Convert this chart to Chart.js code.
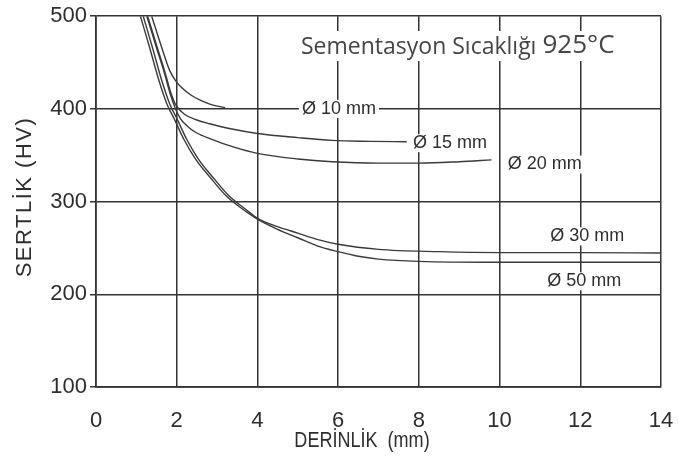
<!DOCTYPE html>
<html>
<head>
<meta charset="utf-8">
<script src="https://cdn.jsdelivr.net/npm/chart.js@4.4.0/dist/chart.umd.min.js"></script>
<style>
  html,body{margin:0;padding:0;background:#fff;}
  #wrap{width:678px;height:468px;}
</style>
</head>
<body>
<div id="wrap"><canvas id="hvChart" width="678" height="468"></canvas></div>
<script>
// hardness vs depth
const seriesNames = ['Ø 10 mm', 'Ø 15 mm', 'Ø 20 mm', 'Ø 30 mm', 'Ø 50 mm'];

const d10x = [1.38, 1.63, 1.83, 1.98, 2.12, 2.35, 2.62, 2.9, 3.2];
const d10y = [500, 466, 441, 430, 423, 415, 408.6, 404, 401.4];

const d15x = [1.28, 1.52, 1.72, 1.85, 1.98, 2.2, 2.5, 2.82, 3.4, 4.0, 5.0, 5.85, 6.8, 7.7];
const d15y = [500, 466, 438, 418, 404, 394, 388, 384, 378, 373.5, 369, 366, 365, 364.5];

const d20x = [1.26, 1.50, 1.70, 1.84, 1.97, 2.1, 2.3, 2.5, 2.82, 3.4, 4.0, 5.0, 5.85, 7.0, 8.0, 9.0, 9.8];
const d20y = [500, 466, 438, 416, 400, 389, 380, 374, 368, 359, 352, 346, 343, 341.5, 341.5, 343, 345];

const d30x = [1.17, 1.40, 1.62, 1.83, 2.0, 2.25, 2.55, 2.9, 3.3, 3.7, 4.0, 4.5, 5.0, 5.5, 6.0, 7.0, 8.5, 10, 12, 14];
const d30y = [500, 466, 432, 405, 390, 367, 345, 326, 306, 292, 282, 273, 266, 259, 254, 248.5, 246, 245, 245, 244.5];

const d50x = [1.10, 1.33, 1.55, 1.76, 1.93, 2.18, 2.48, 2.83, 3.23, 3.63, 4.0, 4.5, 5.0, 5.5, 6.0, 6.5, 7.0, 8.0, 10, 12, 14];
const d50y = [500, 466, 432, 405, 390, 367, 345, 326, 306, 292, 281, 270, 261, 252, 246, 241, 238, 235.5, 234.5, 234.5, 234.5];

const xTicks = [0, 2, 4, 6, 8, 10, 12, 14];
const yTicks = [100, 200, 300, 400, 500];

// where each curve name sits (data units)
const labelX = [6.02, 8.77, 11.12, 12.17, 12.1];
const labelY = [400, 363, 340, 262.5, 214];

const xs = [d10x, d15x, d20x, d30x, d50x];
const ys = [d10y, d15y, d20y, d30y, d50y];

const ink = '#2e2e2e';
const FONT = "'Liberation Sans', Arial, sans-serif";

const datasets = seriesNames.map((name, i) => ({
  label: name,
  data: xs[i].map((x, j) => ({x: x, y: ys[i][j]})),
  borderColor: '#3a3a3a',
  borderWidth: 1.4,
  pointRadius: 0,
  fill: false,
  cubicInterpolationMode: 'monotone'
}));

// curve names, chart note and axis titles
const textPlugin = {
  id: 'texts',
  afterDatasetsDraw(chart){
    const ctx = chart.ctx;
    const sx = chart.scales.x, sy = chart.scales.y;
    ctx.save();
    ctx.textBaseline = 'middle';
    ctx.textAlign = 'center';
    ctx.font = '18px ' + FONT;
    seriesNames.forEach((name, i) => {
      const px = sx.getPixelForValue(labelX[i]);
      const py = sy.getPixelForValue(labelY[i]);
      const w = ctx.measureText(name).width;
      ctx.fillStyle = '#fff';
      ctx.fillRect(px - w/2 - 3, py - 9, w + 6, 18);
      ctx.fillStyle = ink;
      ctx.fillText(name, px, py);
    });

    // note at the top
    const t1 = 'Sementasyon Sıcaklığı ', t2 = '925°C';
    ctx.textAlign = 'left';
    ctx.font = "23px 'Open Sans', sans-serif";
    const w1 = ctx.measureText(t1).width;
    ctx.font = "26px 'Open Sans', sans-serif";
    const w2 = ctx.measureText(t2).width;
    const tx = 301, ty = 46;
    ctx.fillStyle = '#fff';
    ctx.fillRect(tx - 4, ty - 15, w1 + w2 + 8, 30);
    ctx.fillStyle = '#454545';
    ctx.font = "23px 'Open Sans', sans-serif";
    ctx.fillText(t1, tx, ty + 1);
    ctx.font = "26px 'Open Sans', sans-serif";
    ctx.fillText(t2, tx + w1, ty);

    // axis titles (x one squeezed like the original print)
    ctx.fillStyle = ink;
    ctx.textAlign = 'center';
    ctx.font = '22px ' + FONT;
    ctx.save();
    ctx.translate(362, 441);
    ctx.scale(0.82, 1);
    ctx.fillText('DERİNLİK  (mm)', 0, 0);
    ctx.restore();
    ctx.translate(25, 197);
    ctx.rotate(-Math.PI/2);
    ctx.letterSpacing = '1.5px';
    ctx.fillText('SERTLİK (HV)', 0, 0);
    ctx.restore();
  }
};

new Chart(document.getElementById('hvChart'), {
  type: 'line',
  data: {datasets: datasets},
  options: {
    responsive: false,
    animation: false,
    devicePixelRatio: 1,
    layout: {padding: {top: 16, right: 17, left: 0, bottom: 0}},
    plugins: {legend: {display: false}, tooltip: {enabled: false}},
    scales: {
      x: {
        type: 'linear', min: 0, max: 14,
        afterBuildTicks: s => { s.ticks = xTicks.map(v => ({value: v})); },
        afterFit: s => { s.height = 468 - 387; s.paddingRight = 0; s.paddingLeft = 0; },
        ticks: {color: ink, font: {size: 22, family: FONT}, padding: 21},
        grid: {color: '#333', lineWidth: 1.5, drawTicks: false},
        border: {color: '#333', width: 1.7}
      },
      y: {
        min: 100, max: 500,
        afterBuildTicks: s => { s.ticks = yTicks.map(v => ({value: v})); },
        afterFit: s => { s.width = 96; },
        ticks: {color: ink, font: {size: 22, family: FONT}, padding: 3},
        grid: {color: '#333', lineWidth: 1.5, tickLength: 6},
        border: {color: '#333', width: 1.7}
      }
    }
  },
  plugins: [textPlugin]
});
</script>
</body>
</html>
